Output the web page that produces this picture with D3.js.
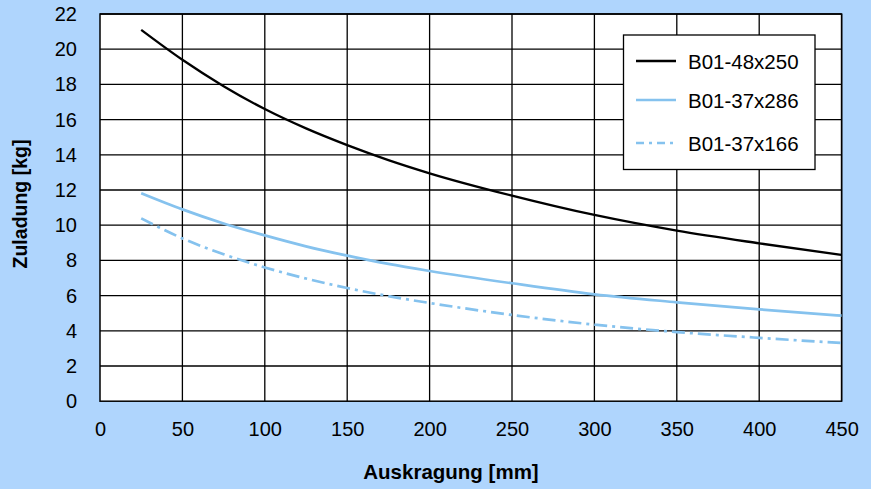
<!DOCTYPE html>
<html><head><meta charset="utf-8">
<script src="https://cdn.jsdelivr.net/npm/d3@7"></script>
<style>
html,body{margin:0;padding:0;background:#afd5fd;}
svg{display:block;font-family:"Liberation Sans",Arial,sans-serif;}
</style></head>
<body>
<svg id="chart" width="871" height="489"></svg>
<script>
const xValues = [25, 50, 75, 100, 125, 150, 175, 200, 250, 300, 350, 400, 450];
const seriesNames = ["B01-48x250", "B01-37x286", "B01-37x166"];
const seriesA = [21.1, 19.4, 17.9, 16.6, 15.5, 14.55, 13.7, 12.95, 11.68, 10.58, 9.69, 8.97, 8.31];
const seriesB = [11.82, 10.9, 10.1, 9.42, 8.8, 8.27, 7.8, 7.4, 6.70, 6.07, 5.62, 5.22, 4.86];
const seriesC = [10.39, 9.25, 8.35, 7.6, 6.97, 6.43, 5.97, 5.58, 4.9, 4.35, 3.93, 3.6, 3.31];
const xTicks = [0, 50, 100, 150, 200, 250, 300, 350, 400, 450];
const yTicks = [0, 2, 4, 6, 8, 10, 12, 14, 16, 18, 20, 22];
const xTitle = "Auskragung [mm]";
const yTitle = "Zuladung [kg]";

const svg = d3.select("#chart");
const L = 100, R = 841.6, T = 14, B = 401.2;
const x = d3.scaleLinear().domain([0, 450]).range([L, R]);
const y = d3.scaleLinear().domain([0, 22]).range([B, T]);
const FONT = "Liberation Sans, Arial, sans-serif";

svg.append("rect").attr("width", 871).attr("height", 489).attr("fill", "#afd5fd");
svg.append("rect").attr("x", L).attr("y", T).attr("width", R - L).attr("height", B - T).attr("fill", "#ffffff");

// grid
const g = svg.append("g");
g.selectAll("line.v").data(xTicks.slice(1)).join("line")
  .attr("x1", d => x(d)).attr("x2", d => x(d)).attr("y1", T).attr("y2", B)
  .attr("stroke", "#000").attr("stroke-width", 1.3);
g.selectAll("line.h").data(yTicks.slice(1)).join("line")
  .attr("x1", L).attr("x2", R).attr("y1", d => y(d)).attr("y2", d => y(d))
  .attr("stroke", "#000").attr("stroke-width", 1.3);
svg.append("rect").attr("x", L).attr("y", T).attr("width", R - L).attr("height", B - T)
  .attr("fill", "none").attr("stroke", "#000").attr("stroke-width", 1.5);

// axes labels via d3 axes
const xAxis = d3.axisBottom(x).tickValues(xTicks).tickSize(0).tickPadding(21);
const xa = svg.append("g").attr("transform", `translate(0,${B})`).call(xAxis);
xa.select(".domain").remove();
xa.selectAll("text").attr("font-size", 20).attr("fill", "#000").attr("font-family", FONT);

const yAxis = d3.axisLeft(y).tickValues(yTicks).tickSize(0).tickPadding(23);
const ya = svg.append("g").attr("transform", `translate(${L},0)`).call(yAxis);
ya.select(".domain").remove();
ya.selectAll("text").attr("font-size", 20).attr("fill", "#000").attr("font-family", FONT);

svg.append("text").attr("x", 451).attr("y", 479).attr("text-anchor", "middle")
  .attr("font-size", 20.5).attr("font-weight", "bold").attr("fill", "#000").text(xTitle);
svg.append("text").attr("transform", "translate(27,204) rotate(-90)").attr("text-anchor", "middle")
  .attr("font-size", 19.5).attr("font-weight", "bold").attr("fill", "#000").text(yTitle);

// lines
const light = "#85c2ee";
const styles = [
  {color: "#000000", dash: null, w: 2.3},
  {color: light, dash: null, w: 2.7},
  {color: light, dash: "13,5,3,5", w: 2.7}
];
const seriesData = [seriesA, seriesB, seriesC];
const line = d3.line().x(d => x(d[0])).y(d => y(d[1])).curve(d3.curveMonotoneX);
seriesData.forEach((s, i) => {
  svg.append("path").datum(xValues.map((v, j) => [v, s[j]]))
    .attr("d", line).attr("fill", "none")
    .attr("stroke", styles[i].color).attr("stroke-width", styles[i].w)
    .attr("stroke-dasharray", styles[i].dash);
});

// legend
const lg = svg.append("g");
lg.append("rect").attr("x", 623.5).attr("y", 35).attr("width", 191.5).attr("height", 134.5)
  .attr("fill", "#fff").attr("stroke", "#000").attr("stroke-width", 1.3);
const legY = [61, 100, 143];
seriesNames.forEach((n, i) => {
  lg.append("line").attr("x1", 636).attr("x2", 676).attr("y1", legY[i]).attr("y2", legY[i])
    .attr("stroke", styles[i].color).attr("stroke-width", styles[i].w)
    .attr("stroke-dasharray", i === 2 ? "8,5,3,5" : null);
  lg.append("text").attr("x", 688).attr("y", legY[i] + 7.5).attr("font-size", 20.5)
    .attr("fill", "#000").attr("font-family", FONT).text(n);
});
</script>
</body></html>
